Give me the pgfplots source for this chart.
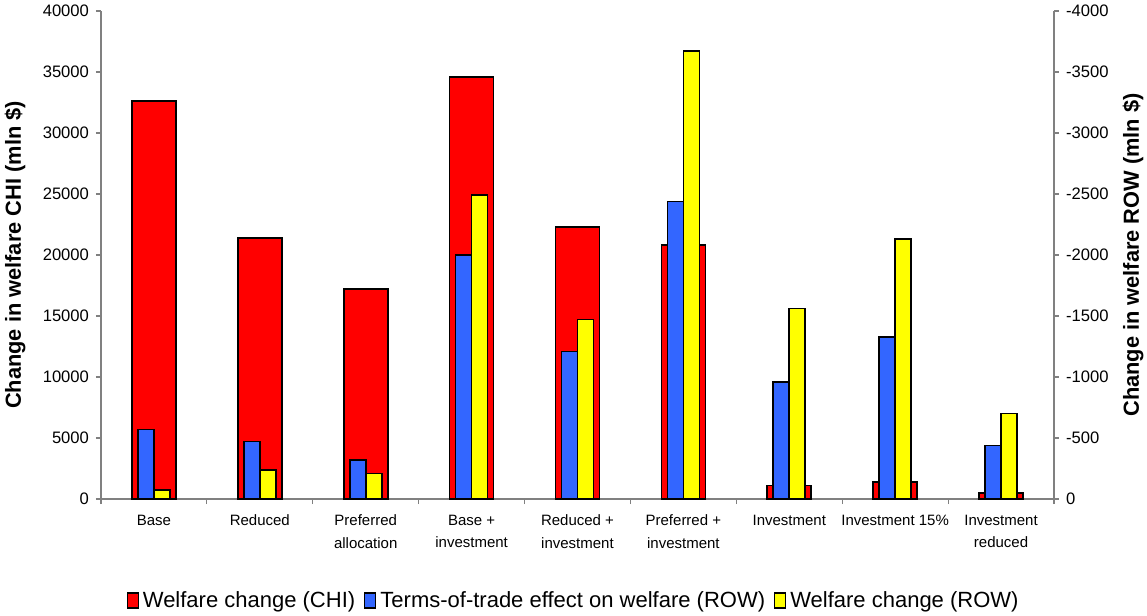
\documentclass[border=0pt]{standalone}
\usepackage{fontspec}
\setmainfont{Liberation Sans}
\usepackage{pgfplots}
\pgfplotsset{compat=1.18}
\definecolor{cred}{HTML}{FF0000}
\definecolor{cblue}{HTML}{3366FF}
\definecolor{cyel}{HTML}{FFFF00}
\definecolor{axgray}{HTML}{808080}
\begin{document}
\begin{tikzpicture}
\pgfplotsset{
  common/.style={
    scale only axis, width=476.5pt, height=244pt,
    at={(0,0)}, anchor=south west,
    xmin=-0.5, xmax=8.5,
    ybar,
    /pgf/number format/assume math mode=true,
    /pgf/number format/1000 sep={},
    tick align=outside,
    major tick length=2.5pt,
    axis line style={axgray, line width=0.6pt},
    tick style={axgray, line width=0.6pt},
    yticklabel style={font=\fontsize{8.3}{9}\selectfont},
    scaled y ticks=false,
    enlargelimits=false,
  },
  barsty/.style={draw=black, line width=0.8pt},
}
\begin{axis}[common,
  axis y line*=left, axis x line*=bottom,
  ymin=0, ymax=40000, ytick distance=5000,
  xtick={-0.5,0.5,...,8.5},
  xticklabels={{},{},{},{},{},{},{},{},{},{}},
  extra x ticks={0,1,2,3,4,5,6,7,8},
  extra x tick labels={Base, Reduced, {Preferred\\allocation}, {Base +\\investment}, {Reduced +\\investment}, {Preferred +\\investment}, Investment, Investment 15\%, {Investment\\reduced}},
  extra x tick style={tick style={draw=none}, xticklabel style={align=center, yshift=-2pt, font=\fontsize{7.5}{11.2}\selectfont}},
  ylabel={\bfseries Change in welfare CHI (mln \$)},
  ylabel style={at={(axis description cs:-0.0902,0.5)}, anchor=center, font=\fontsize{10.9}{12}\selectfont},
]
\addplot[barsty, fill=cred, bar width=22pt, bar shift=0pt] coordinates {
(0,32600) (1,21400) (2,17200) (3,34600) (4,22300) (5,20800) (6,1100) (7,1400) (8,500)};
\end{axis}
\begin{axis}[common,
  axis y line*=right, axis x line=none,
  ymin=-4000, ymax=0, y dir=reverse, ytick distance=500,
  ylabel={\bfseries Change in welfare ROW (mln \$)},
  ylabel style={at={(axis description cs:1.0829,0.5)}, anchor=center, font=\fontsize{10.9}{12}\selectfont},
  legend style={at={(axis description cs:0.497,-0.209)}, anchor=center, legend columns=3, draw=none, fill=none,
    font=\fontsize{11}{12}\selectfont, inner sep=0pt,
    /tikz/every even column/.append style={column sep=2.5pt}},
  legend image code/.code={\draw[#1, line width=0.6pt] (0pt,-3.5pt) rectangle (5.5pt,4pt);},
]
\addlegendimage{fill=cred, draw=black}
\addlegendentry{Welfare change (CHI)}
\addplot[barsty, fill=cblue, bar width=8pt, bar shift=-4pt] coordinates {
(0,-570) (1,-470) (2,-320) (3,-2000) (4,-1210) (5,-2440) (6,-960) (7,-1330) (8,-440)};
\addlegendentry{Terms-of-trade effect on welfare (ROW)}
\addplot[barsty, fill=cyel, bar width=8pt, bar shift=4pt] coordinates {
(0,-75) (1,-240) (2,-210) (3,-2490) (4,-1470) (5,-3670) (6,-1560) (7,-2130) (8,-700)};
\addlegendentry{Welfare change (ROW)}
\end{axis}
\pgfresetboundingbox
\path (-50.5pt,-58.5pt) rectangle (523pt,249.5pt);
\end{tikzpicture}
\end{document}
